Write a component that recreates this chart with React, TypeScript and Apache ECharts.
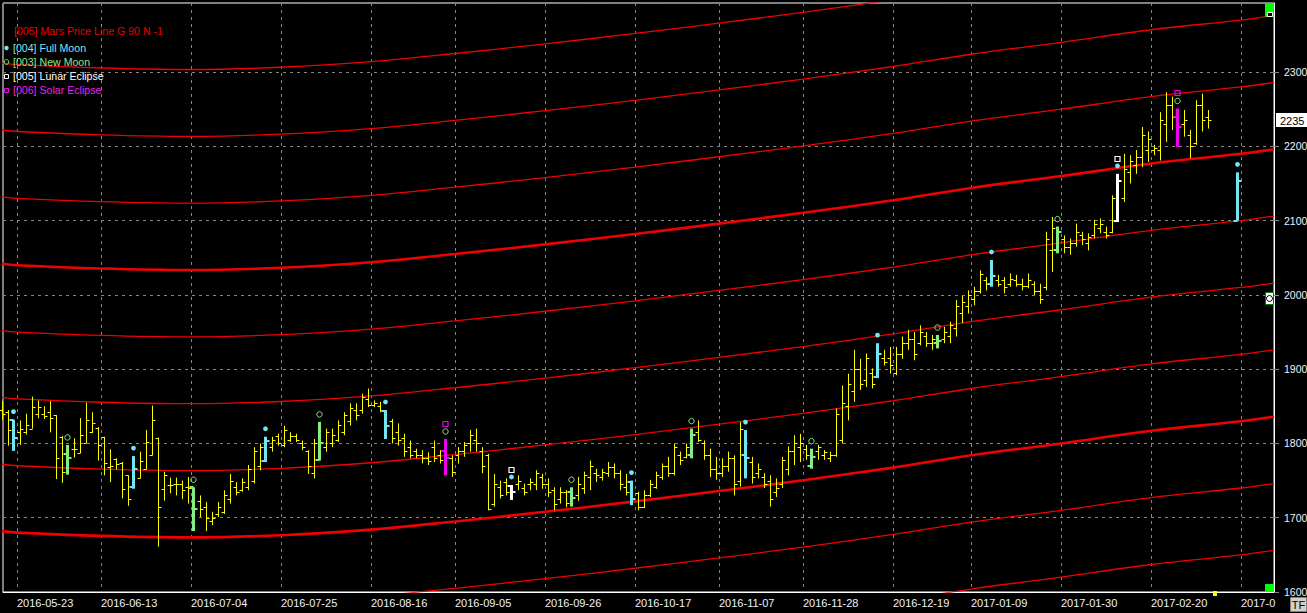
import React, { useEffect, useRef } from "react";
import * as echarts from "echarts";

// ---- x axis: trading-day index, labels placed on the boundary after bar `labelSlots[k]`
const dateLabels = [
  "2016-05-23", "2016-06-13", "2016-07-04", "2016-07-25", "2016-08-16",
  "2016-09-05", "2016-09-26", "2016-10-17", "2016-11-07", "2016-11-28",
  "2016-12-19", "2017-01-09", "2017-01-30", "2017-02-20", "2017-03-13",
];
const labelSlots = [2, 16, 31, 46, 61, 75, 90, 105, 119, 133, 148, 161, 176, 191, 206];

// ---- y axis ticks
const priceTicks = [1600, 1700, 1800, 1900, 2000, 2100, 2200, 2300];

// ---- daily bars [open, high, low, close], index = trading day
const bars: number[][] = [
  [1845, 1857, 1832, 1840], [1843, 1845, 1797, 1818], [1831, 1832, 1790, 1807], [1815, 1831, 1798, 1819],
  [1816, 1840, 1812, 1825], [1820, 1863, 1820, 1849], [1840, 1858, 1834, 1849], [1840, 1850, 1833, 1837],
  [1842, 1857, 1815, 1834], [1838, 1838, 1752, 1781], [1809, 1810, 1747, 1761], [1786, 1798, 1758, 1781],
  [1793, 1807, 1781, 1793], [1787, 1834, 1787, 1812], [1800, 1855, 1800, 1832], [1815, 1842, 1814, 1828],
  [1821, 1822, 1777, 1798], [1809, 1809, 1757, 1774], [1768, 1792, 1748, 1769], [1779, 1780, 1765, 1773],
  [1774, 1775, 1726, 1739], [1757, 1757, 1716, 1725], [1741, 1783, 1739, 1766], [1753, 1789, 1753, 1777],
  [1765, 1818, 1765, 1802], [1784, 1851, 1784, 1832], [1808, 1808, 1661, 1715], [1739, 1762, 1723, 1757],
  [1744, 1754, 1733, 1744], [1746, 1754, 1730, 1745], [1746, 1750, 1725, 1738], [1741, 1755, 1719, 1740],
  [1741, 1741, 1682, 1712], [1722, 1730, 1701, 1712], [1715, 1721, 1682, 1700], [1695, 1708, 1690, 1700],
  [1705, 1721, 1701, 1715], [1708, 1737, 1705, 1730], [1725, 1759, 1719, 1750], [1742, 1748, 1730, 1735],
  [1738, 1753, 1735, 1748], [1742, 1771, 1737, 1765], [1750, 1795, 1746, 1790], [1770, 1800, 1764, 1795],
  [1776, 1809, 1775, 1803], [1795, 1809, 1789, 1805], [1810, 1813, 1797, 1800], [1798, 1824, 1795, 1818],
  [1805, 1815, 1802, 1810], [1810, 1813, 1802, 1805], [1800, 1804, 1791, 1795], [1790, 1791, 1759, 1770],
  [1760, 1806, 1753, 1800], [1778, 1829, 1777, 1800], [1795, 1820, 1789, 1815], [1800, 1820, 1795, 1812],
  [1805, 1831, 1802, 1825], [1815, 1842, 1811, 1838], [1830, 1854, 1824, 1848], [1845, 1854, 1831, 1838],
  [1845, 1867, 1840, 1862], [1860, 1874, 1849, 1852], [1852, 1858, 1849, 1855], [1850, 1856, 1842, 1845],
  [1844, 1845, 1806, 1823], [1830, 1833, 1800, 1808], [1815, 1827, 1797, 1805], [1808, 1813, 1782, 1790],
  [1795, 1804, 1780, 1785], [1790, 1793, 1780, 1785], [1785, 1791, 1773, 1780], [1780, 1788, 1771, 1777],
  [1795, 1804, 1775, 1780], [1785, 1791, 1773, 1778], [1790, 1806, 1757, 1780], [1780, 1784, 1755, 1762],
  [1785, 1795, 1773, 1790], [1790, 1802, 1782, 1798], [1800, 1818, 1789, 1812], [1805, 1820, 1789, 1800],
  [1790, 1795, 1760, 1770], [1785, 1786, 1710, 1712], [1718, 1759, 1715, 1745], [1742, 1750, 1726, 1730],
  [1748, 1753, 1730, 1735], [1743, 1744, 1724, 1735], [1745, 1757, 1737, 1750], [1740, 1746, 1730, 1735],
  [1745, 1753, 1737, 1748], [1745, 1764, 1737, 1760], [1755, 1759, 1739, 1745], [1745, 1753, 1728, 1735],
  [1738, 1741, 1710, 1718], [1725, 1741, 1719, 1735], [1735, 1737, 1714, 1720], [1735, 1741, 1715, 1727],
  [1730, 1755, 1723, 1745], [1740, 1762, 1732, 1758], [1755, 1777, 1737, 1770], [1760, 1766, 1748, 1758],
  [1755, 1766, 1750, 1762], [1760, 1775, 1755, 1768], [1768, 1773, 1753, 1760], [1760, 1764, 1737, 1745],
  [1742, 1759, 1730, 1735], [1748, 1750, 1717, 1725], [1733, 1735, 1710, 1715], [1715, 1737, 1713, 1730],
  [1730, 1751, 1728, 1745], [1742, 1762, 1739, 1758], [1755, 1773, 1751, 1770], [1770, 1782, 1755, 1760],
  [1760, 1800, 1757, 1795], [1785, 1789, 1771, 1778], [1782, 1800, 1780, 1795], [1785, 1820, 1780, 1812],
  [1815, 1831, 1802, 1805], [1800, 1804, 1778, 1785], [1785, 1793, 1755, 1765], [1765, 1782, 1751, 1760],
  [1760, 1780, 1755, 1770], [1770, 1789, 1762, 1780], [1780, 1784, 1730, 1745], [1750, 1829, 1742, 1820],
  [1785, 1818, 1753, 1780], [1775, 1782, 1746, 1755], [1760, 1773, 1753, 1765], [1755, 1760, 1740, 1745],
  [1750, 1757, 1715, 1725], [1735, 1753, 1728, 1740], [1745, 1782, 1740, 1778], [1765, 1796, 1757, 1790],
  [1790, 1811, 1771, 1800], [1795, 1813, 1775, 1800], [1792, 1798, 1778, 1785], [1770, 1793, 1766, 1782],
  [1790, 1798, 1778, 1795], [1785, 1791, 1778, 1788], [1780, 1789, 1775, 1785], [1785, 1847, 1782, 1840],
  [1805, 1878, 1800, 1855], [1850, 1894, 1831, 1880], [1870, 1926, 1856, 1900], [1900, 1914, 1872, 1880],
  [1885, 1921, 1876, 1915], [1895, 1901, 1874, 1880], [1890, 1935, 1888, 1920], [1915, 1926, 1905, 1910],
  [1915, 1930, 1894, 1905], [1895, 1930, 1892, 1920], [1920, 1944, 1914, 1935], [1935, 1953, 1926, 1940],
  [1940, 1950, 1912, 1920], [1935, 1959, 1932, 1950], [1945, 1950, 1930, 1935], [1935, 1946, 1926, 1940],
  [1935, 1946, 1928, 1938], [1940, 1957, 1935, 1950], [1945, 1964, 1935, 1960], [1955, 1993, 1944, 1985],
  [1975, 1999, 1962, 1990], [1985, 2006, 1975, 2000], [1995, 2011, 1986, 2005], [2005, 2033, 2002, 2028],
  [2020, 2024, 2006, 2015], [2015, 2047, 2011, 2025], [2020, 2027, 2011, 2015], [2020, 2024, 2002, 2010],
  [2015, 2029, 2011, 2022], [2020, 2027, 2011, 2015], [2015, 2022, 2006, 2012], [2012, 2029, 2009, 2020],
  [2015, 2018, 2000, 2005], [2005, 2015, 1988, 1995], [2010, 2085, 2006, 2075], [2060, 2105, 2031, 2090],
  [2060, 2092, 2056, 2085], [2075, 2080, 2056, 2065], [2065, 2076, 2054, 2070], [2070, 2096, 2065, 2085],
  [2080, 2085, 2067, 2075], [2070, 2083, 2060, 2078], [2080, 2101, 2076, 2095], [2090, 2103, 2083, 2095],
  [2085, 2092, 2076, 2080], [2085, 2134, 2083, 2130], [2100, 2163, 2098, 2153], [2130, 2190, 2125, 2170],
  [2165, 2188, 2150, 2180], [2175, 2195, 2163, 2185], [2185, 2226, 2172, 2215], [2195, 2220, 2179, 2210],
  [2195, 2202, 2188, 2198], [2195, 2246, 2181, 2235], [2230, 2273, 2206, 2255], [2255, 2267, 2222, 2240],
  [2240, 2251, 2199, 2226], [2230, 2249, 2213, 2235], [2215, 2222, 2184, 2200], [2205, 2262, 2202, 2255],
  [2255, 2271, 2220, 2235], [2240, 2249, 2224, 2235],
];
// projected (future) full-moon bar
const projectedIndex = 206;
const projectedBar = [2100, 2165, 2100, 2153];

// ---- astro events (trading-day index)
const fullMoonIdx = [2, 22, 44, 64, 85, 105, 124, 146, 165, 186, 206];
const newMoonIdx = [11, 32, 53, 74, 95, 115, 135, 156, 176, 196];
const lunarEclipseIdx = [85, 186];
const solarEclipseIdx = [74, 196];

// ---- Mars price line (base curve, thick), read at label positions; copies every 90
const marsIdx = [0, 2.5, 16.5, 31.5, 46.5, 61.5, 75.5, 90.5, 105.5, 119.5, 133.5, 148.5, 161.5, 176.5, 191.5, 206.5, 212];
const marsBase = [1682, 1680, 1675.5, 1673.5, 1676.5, 1684, 1695, 1708, 1722, 1736, 1750.5, 1767.5, 1784, 1800, 1817, 1830, 1836];
const marsOffsets = [-180, -90, 0, 90, 180, 270, 360, 450, 540, 630];

const FONT = '"Liberation Sans", Arial, sans-serif';
const YELLOW = "#ffff00";
const CYAN = "#72e6f2";
const GREEN = "#84ee84";
const WHITE = "#ffffff";
const MAGENTA = "#f000f0";
const RED = "#f00000";
const GRID = "#858585";
const LABEL = "#eef2ff";

const X_MIN = 1 / 6;
const X_MAX = 212;

const fullSet = new Set(fullMoonIdx);
const newSet = new Set(newMoonIdx);
const lunarSet = new Set(lunarEclipseIdx);
const solarSet = new Set(solarEclipseIdx);

function eventColor(i: number): string | null {
  if (solarSet.has(i)) return MAGENTA;
  if (lunarSet.has(i)) return WHITE;
  if (fullSet.has(i)) return CYAN;
  if (newSet.has(i)) return GREEN;
  return null;
}

function highOf(i: number): number {
  return i === projectedIndex ? projectedBar[1] : bars[i][1];
}

const labelPos = labelSlots.map((s) => s + 0.5);
const mainLabelPos = labelPos.slice(0, -1);
const edgeLabelPos = labelPos.slice(-1);

function labelFor(v: number): string {
  const k = labelPos.findIndex((p) => Math.abs(p - v) < 0.01);
  return k >= 0 ? dateLabels[k] : "";
}

function buildOption(): any {
  const barData = bars.map((b, i) => [i, b[0], b[1], b[2], b[3]]);
  barData.push([projectedIndex, ...projectedBar]);
  const lastClose = bars[bars.length - 1][3];

  const marsSeries = marsOffsets.map((off) => ({
    type: "line",
    name: "[005] Mars Price Line G 90 N -1",
    data: marsIdx.map((x, j) => [x, marsBase[j] + off]),
    showSymbol: false,
    smooth: 0.35,
    silent: true,
    z: 2,
    lineStyle: { color: RED, width: off % 360 === 0 ? 2.6 : 1.3 },
  }));

  // last price tag on the price axis
  const lastPriceSeries = {
    type: "custom",
    name: "last",
    clip: false,
    silent: true,
    z: 8,
    data: [[X_MAX, lastClose]],
    encode: { x: 0, y: 1 },
    renderItem: (params: any, api: any) => {
      const c = api.coord([api.value(0), api.value(1)]);
      const y = Math.round(c[1]);
      return {
        type: "group",
        children: [
          { type: "rect", shape: { x: c[0] + 2, y: y - 7, width: 31, height: 14 }, style: { fill: "#ffffff" } },
          {
            type: "text",
            x: c[0] + 6,
            y: y + 0.5,
            style: { text: String(api.value(1)), fill: "#000000", font: `11px ${FONT}`, verticalAlign: "middle", align: "left" },
          },
        ],
      };
    },
  };

  const barSeries = {
    type: "custom",
    name: "bars",
    z: 5,
    data: barData,
    encode: { x: 0, y: [1, 2, 3, 4] },
    renderItem: (params: any, api: any) => {
      const idx = api.value(0);
      const pO = api.coord([idx, api.value(1)]);
      const pH = api.coord([idx, api.value(2)]);
      const pL = api.coord([idx, api.value(3)]);
      const pC = api.coord([idx, api.value(4)]);
      const col = eventColor(idx);
      const thick = !!col;
      const stroke = col || YELLOW;
      const x = thick ? Math.round(pH[0]) - 0.5 : Math.round(pH[0]) + 0.5;
      const t = thick ? 4 : 3;
      const yO = Math.round(pO[1]) + (thick ? 0 : 0.5);
      const yC = Math.round(pC[1]) + (thick ? 0 : 0.5);
      const lw = thick ? 3 : 1;
      const tw = thick ? 2 : 1;
      return {
        type: "group",
        children: [
          { type: "line", shape: { x1: x, y1: pH[1], x2: x, y2: pL[1] }, style: { stroke, lineWidth: lw } },
          { type: "line", shape: { x1: x - t, y1: yO, x2: x, y2: yO }, style: { stroke, lineWidth: tw } },
          { type: "line", shape: { x1: x, y1: yC, x2: x + t, y2: yC }, style: { stroke, lineWidth: tw } },
        ],
      };
    },
  };

  const markerSeries = (name: string, idxs: number[], kind: string, color: string) => ({
    type: "custom",
    name,
    z: 6,
    data: idxs.map((i) => [i, highOf(i)]),
    encode: { x: 0, y: 1 },
    renderItem: (params: any, api: any) => {
      const c = api.coord([api.value(0), api.value(1)]);
      const cx = Math.round(c[0]) - 0.5;
      if (kind === "dot") {
        return { type: "circle", shape: { cx, cy: c[1] - 8, r: 2.4 }, style: { fill: color } };
      }
      if (kind === "ring") {
        return { type: "circle", shape: { cx, cy: c[1] - 7.5, r: 2.7 }, style: { fill: "none", stroke: color, lineWidth: 1 } };
      }
      return {
        type: "rect",
        shape: { x: cx - 2.5, y: Math.round(c[1] - 15) - 2.5, width: 5, height: 5 },
        style: { fill: "none", stroke: color, lineWidth: 1.2 },
      };
    },
  });

  const legendText = (text: string, y: number, color: string, x = 13) => ({
    type: "text",
    x,
    y,
    z: 100,
    silent: true,
    style: { text, fill: color, font: `10.6px ${FONT}`, verticalAlign: "middle", align: "left" },
  });

  const xLabelBase = {
    color: LABEL,
    fontSize: 11,
    fontFamily: FONT,
    align: "left",
    margin: 5,
    formatter: (v: number) => labelFor(v),
  };

  return {
    animation: false,
    backgroundColor: "#000000",
    grid: {
      left: 3,
      top: 3,
      right: 33,
      bottom: 21,
      containLabel: false,
      outerBoundsMode: "none",
      show: true,
      borderColor: "#ffffff",
      borderWidth: 1,
      backgroundColor: "transparent",
    },
    xAxis: [
      {
        type: "value",
        position: "bottom",
        min: X_MIN,
        max: X_MAX,
        axisLine: { show: true, lineStyle: { color: "#ffffff" } },
        axisTick: { show: false, customValues: labelPos },
        axisLabel: { ...xLabelBase, customValues: mainLabelPos },
        splitLine: { show: true, lineStyle: { color: GRID, type: [3, 4], width: 1 } },
      },
      {
        // last date label, clipped at the plot's right edge as in the source
        type: "value",
        position: "bottom",
        offset: 0,
        min: X_MIN,
        max: X_MAX,
        axisLine: { show: false },
        axisTick: { show: false, customValues: edgeLabelPos },
        axisLabel: { ...xLabelBase, customValues: edgeLabelPos, width: 38, overflow: "truncate", ellipsis: "" },
        splitLine: { show: false },
      },
    ],
    yAxis: {
      type: "value",
      position: "right",
      min: priceTicks[0],
      max: 2393,
      interval: priceTicks[1] - priceTicks[0],
      axisLine: { show: true, lineStyle: { color: "#ffffff" } },
      axisTick: { show: true, length: 5, lineStyle: { color: GRID } },
      axisLabel: {
        color: LABEL,
        fontSize: 10.5,
        fontFamily: FONT,
        margin: 10,
        showMaxLabel: false,
        formatter: (v: number) => (priceTicks.includes(v) ? String(v) : ""),
      },
      splitLine: { show: true, lineStyle: { color: GRID, type: [3, 4], width: 1 } },
    },
    series: [
      ...marsSeries,
      barSeries,
      markerSeries("[004] Full Moon", fullMoonIdx, "dot", CYAN),
      markerSeries("[003] New Moon", newMoonIdx, "ring", GREEN),
      markerSeries("[005] Lunar Eclipse", lunarEclipseIdx, "square", WHITE),
      markerSeries("[006] Solar Eclipse", solarEclipseIdx, "square", MAGENTA),
      lastPriceSeries,
    ],
    graphic: {
      z: 100,
      elements: [
        legendText("[005] Mars Price Line G 90 N -1", 31, "#e60000", 14),
        { type: "circle", z: 100, silent: true, shape: { cx: 6.5, cy: 48, r: 2.2 }, style: { fill: CYAN } },
        legendText("[004] Full Moon", 48, "#86e2f2"),
        { type: "circle", z: 100, silent: true, shape: { cx: 6.5, cy: 62, r: 2.4 }, style: { fill: "none", stroke: GREEN, lineWidth: 1 } },
        legendText("[003] New Moon", 62, "#8ee68e"),
        { type: "rect", z: 100, silent: true, shape: { x: 4.5, y: 74.5, width: 4, height: 4 }, style: { fill: "none", stroke: WHITE, lineWidth: 1 } },
        legendText("[005] Lunar Eclipse", 76, "#ffffff"),
        { type: "rect", z: 100, silent: true, shape: { x: 4.5, y: 88.5, width: 4, height: 4 }, style: { fill: "none", stroke: MAGENTA, lineWidth: 1 } },
        legendText("[006] Solar Eclipse", 90, "#ee22ee"),
        // TF button
        { type: "rect", z: 100, silent: true, shape: { x: 1290.5, y: 597.5, width: 16, height: 14 }, style: { fill: "#d4d0c8", stroke: "#808080", lineWidth: 1 } },
        { type: "text", z: 101, silent: true, x: 1298.5, y: 604.5, style: { text: "TF", fill: "#000000", font: `11px ${FONT}`, align: "center", verticalAlign: "middle" } },
        // small panel icons
        { type: "rect", z: 100, silent: true, shape: { x: 1265, y: 3, width: 9, height: 14 }, style: { fill: "#00ff00" } },
        { type: "rect", z: 101, silent: true, shape: { x: 1267.5, y: 12.5, width: 5, height: 4 }, style: { fill: "#000000", stroke: "#ffffff", lineWidth: 1 } },
        { type: "rect", z: 100, silent: true, shape: { x: 1265.5, y: 292.5, width: 8, height: 12 }, style: { fill: "#ffffff", stroke: "#008000", lineWidth: 1 } },
        { type: "circle", z: 101, silent: true, shape: { cx: 1269.5, cy: 298.5, r: 3 }, style: { fill: "#ffffff", stroke: "#000000", lineWidth: 1 } },
        { type: "rect", z: 100, silent: true, shape: { x: 1265, y: 584, width: 9, height: 8 }, style: { fill: "#00ff00" } },
        { type: "rect", z: 100, silent: true, shape: { x: 1213, y: 591, width: 4, height: 5 }, style: { fill: "#ffff00" } },
      ],
    },
  };
}

export default function App() {
  const ref = useRef<HTMLDivElement>(null);
  useEffect(() => {
    if (!ref.current) return;
    const chart = echarts.init(ref.current, null, { renderer: "svg" });
    chart.setOption(buildOption());
    return () => chart.dispose();
  }, []);
  return (
    <div
      ref={ref}
      style={{ position: "fixed", left: 0, top: 0, width: 1307, height: 613, background: "#000" }}
    />
  );
}
